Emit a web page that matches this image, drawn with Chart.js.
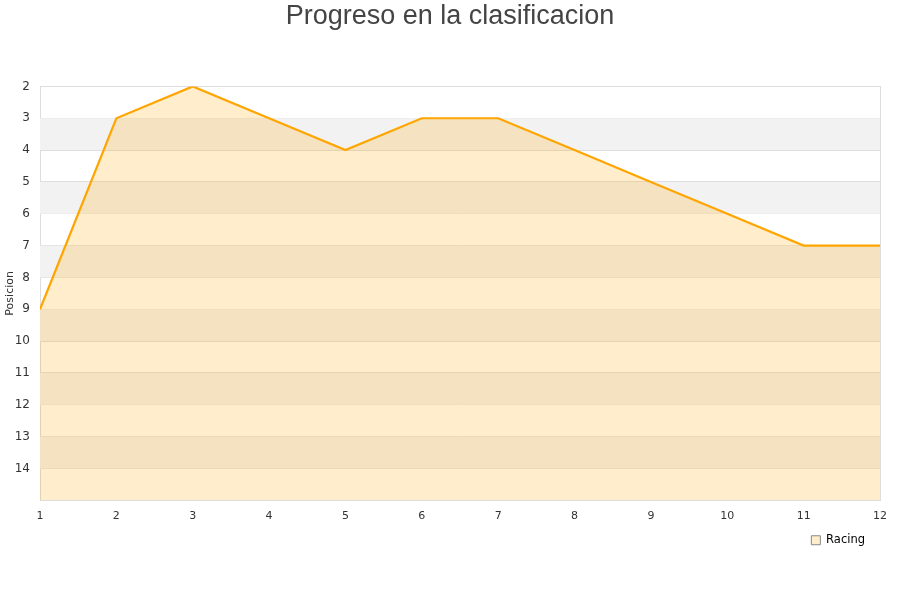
<!DOCTYPE html>
<html>
<head>
<meta charset="utf-8">
<script src="https://cdn.jsdelivr.net/npm/chart.js@4"></script>
<style>
  body { margin: 0; background: #fff; }
  #wrap { width: 900px; height: 600px; }
</style>
</head>
<body>
<div id="wrap"><canvas id="myChart-Progreso"></canvas></div>
<script>
const jornadas = [1, 2, 3, 4, 5, 6, 7, 8, 9, 10, 11, 12];
const posiciones = [9, 3, 2, 3, 4, 3, 3, 4, 5, 6, 7, 7];
const equipo = 'Racing';

// alternating grey bands behind the plot
const bandas = {
  id: 'bandas',
  beforeDatasetsDraw(chart) {
    const { ctx, chartArea, scales } = chart;
    const y = scales.y;
    ctx.save();
    ctx.fillStyle = '#f2f2f2';
    for (let v = 3; v < 15; v += 2) {
      const top = y.getPixelForValue(v);
      const bottom = y.getPixelForValue(v + 1);
      ctx.fillRect(chartArea.left, top, chartArea.right - chartArea.left, bottom - top);
    }
    ctx.restore();
  },
  // move the legend a little left of the plot edge
  afterLayout(chart) {
    chart.legend.right = chart.chartArea.right - 12;
  }
};

const ctxProgreso = document.getElementById('myChart-Progreso');

new Chart(ctxProgreso, {
  type: 'line',
  data: {
    labels: jornadas,
    datasets: [
      {
        label: equipo,
        data: posiciones,
        fill: { value: 15 },
        borderColor: '#ffa500',
        borderWidth: 2.2,
        backgroundColor: 'rgba(255, 165, 0, 0.2)',
        pointRadius: 0,
        tension: 0
      }]
  },
  options: {
    responsive: true,
    maintainAspectRatio: false,
    animation: false,
    layout: { padding: { top: 0, right: 10, bottom: 44, left: 10 } },
    plugins: {
      title: {
        display: true,
        text: 'Progreso en la clasificacion',
        color: '#444',
        font: { family: 'Liberation Sans', size: 27, weight: 'normal' },
        padding: { top: 0, bottom: 54 }
      },
      legend: {
        position: 'bottom',
        align: 'end',
        labels: {
          boxWidth: 9,
          boxHeight: 9,
          padding: 3,
          color: '#000',
          font: { family: 'DejaVu Sans', size: 11.5 },
          generateLabels: () => [{
            text: equipo,
            fillStyle: 'rgba(255, 165, 0, 0.2)',
            strokeStyle: '#888',
            lineWidth: 1
          }]
        }
      },
      tooltip: { enabled: false }
    },
    scales: {
      x: {
        type: 'linear',
        min: 1,
        max: 12,
        grid: { display: false, drawTicks: false },
        border: { color: '#ddd' },
        ticks: {
          stepSize: 1,
          color: '#333',
          padding: 9,
          font: { family: 'DejaVu Sans', size: 11 }
        }
      },
      y: {
        reverse: true,
        min: 2,
        max: 15,
        grid: { color: '#ddd', drawTicks: false },
        border: { color: '#ddd' },
        afterFit: (axis) => { axis.width = 30; },
        title: {
          display: true,
          text: 'Posicion',
          color: '#333',
          font: { family: 'DejaVu Sans', size: 11 },
          padding: { top: -6, bottom: 0 }
        },
        ticks: {
          stepSize: 1,
          color: '#333',
          padding: 10,
          font: { family: 'DejaVu Sans', size: 12 },
          callback: (v) => v === 15 ? '' : v
        }
      },
      y2: {
        position: 'right',
        min: 2,
        max: 15,
        grid: { display: false, drawTicks: false },
        border: { color: '#ddd' },
        ticks: { display: false },
        afterFit: (axis) => { axis.width = 10; }
      }
    }
  },
  plugins: [bandas]
});
</script>
</body>
</html>
